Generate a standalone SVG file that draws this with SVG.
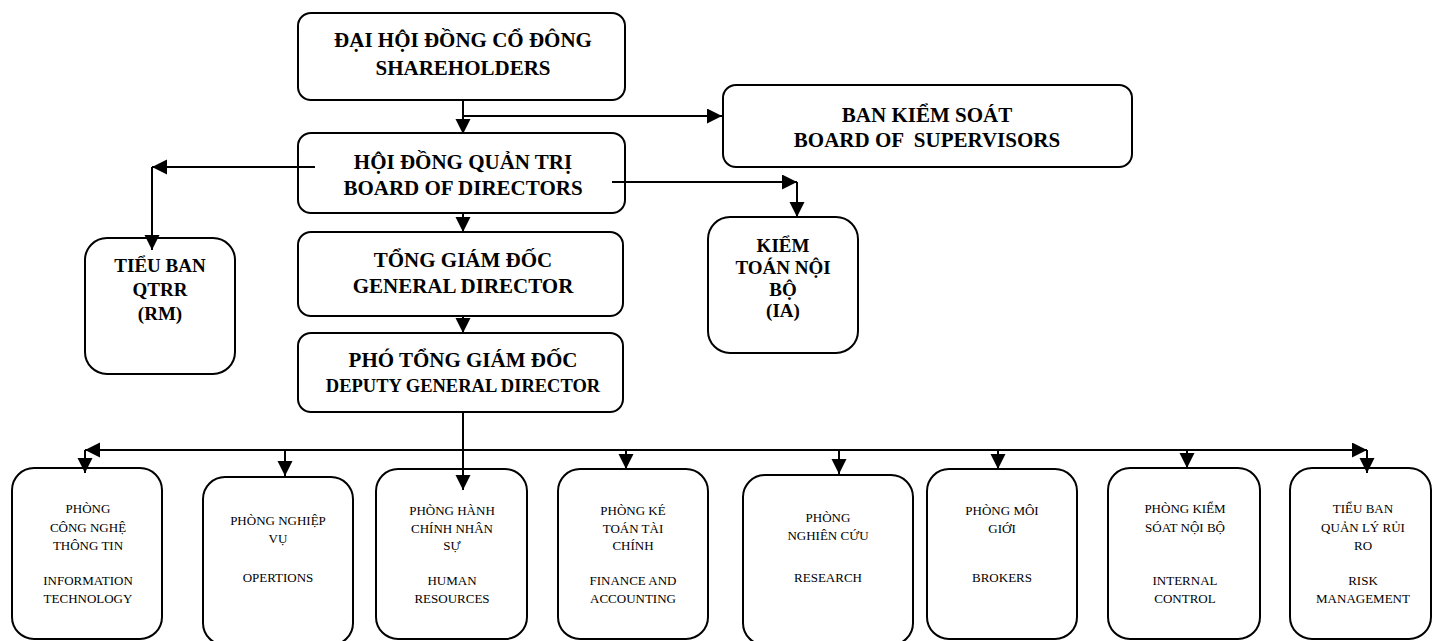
<svg xmlns="http://www.w3.org/2000/svg" width="1433" height="641" viewBox="0 0 1433 641">
<style>
.box{fill:#fff;stroke:#000;stroke-width:2}
text{font-family:'Liberation Serif',serif;text-anchor:middle;fill:#000}
.t{font-weight:bold;font-size:21px}
.s{font-weight:bold;font-size:19px}
.r{font-size:13px}
.c{stroke:#000;stroke-width:2;fill:none;marker-end:url(#ah)}
.n{stroke:#000;stroke-width:2;fill:none}
</style>
<defs>
<marker id="ah" markerUnits="userSpaceOnUse" markerWidth="16" markerHeight="16" refX="15" refY="7.5" orient="auto">
<path d="M0,0 L15,7.5 L0,15 z" fill="#000"/>
</marker>
</defs>
<rect width="1433" height="641" fill="#fff"/>
<g id="shareholders">
<rect class="box" x="298" y="13" width="327" height="87" rx="13"/>
<text class="t" x="463" y="47">ĐẠI HỘI ĐỒNG CỔ ĐÔNG</text>
<text class="t" x="463" y="75">SHAREHOLDERS</text>
</g>
<g id="supervisors">
<rect class="box" x="723" y="85" width="409" height="82" rx="13"/>
<text class="t" x="927" y="122">BAN KIỂM SOÁT</text>
<text class="t" x="927" y="147" xml:space="preserve">BOARD OF  SUPERVISORS</text>
</g>
<g id="board">
<rect class="box" x="298" y="133" width="327" height="80" rx="13"/>
<text class="t" x="463" y="169">HỘI ĐỒNG QUẢN TRỊ</text>
<text class="t" x="463" y="195">BOARD OF DIRECTORS</text>
</g>
<g id="rm">
<rect class="box" x="85" y="238" width="150" height="136" rx="22"/>
<text class="s" x="160" y="272">TIỂU BAN</text>
<text class="s" x="160" y="296">QTRR</text>
<text class="s" x="160" y="320">(RM)</text>
</g>
<g id="ia">
<rect class="box" x="708" y="217" width="150" height="136" rx="22"/>
<text class="s" x="783" y="252">KIỂM</text>
<text class="s" x="783" y="274">TOÁN NỘI</text>
<text class="s" x="783" y="296">BỘ</text>
<text class="s" x="783" y="317">(IA)</text>
</g>
<g id="gd">
<rect class="box" x="298" y="232" width="325" height="84" rx="13"/>
<text class="t" x="463" y="267">TỔNG GIÁM ĐỐC</text>
<text class="t" x="463" y="293">GENERAL DIRECTOR</text>
</g>
<g id="dgd">
<rect class="box" x="298" y="333" width="325" height="79" rx="13"/>
<text class="t" x="463" y="367">PHÓ TỔNG GIÁM ĐỐC</text>
<text class="t" x="463" y="392" style="font-size:18.5px">DEPUTY GENERAL DIRECTOR</text>
</g>
<g id="it">
<rect class="box" x="12" y="468" width="150" height="171" rx="22"/>
<text class="r" x="88" y="513">PHÒNG</text>
<text class="r" x="88" y="532">CÔNG NGHỆ</text>
<text class="r" x="88" y="550">THÔNG TIN</text>
<text class="r" x="88" y="585">INFORMATION</text>
<text class="r" x="88" y="603">TECHNOLOGY</text>
</g>
<g id="ops">
<rect class="box" x="203" y="477" width="150" height="168" rx="22"/>
<text class="r" x="278" y="525">PHÒNG NGHIỆP</text>
<text class="r" x="278" y="543">VỤ</text>
<text class="r" x="278" y="582">OPERTIONS</text>
</g>
<g id="hr">
<rect class="box" x="376" y="469" width="151" height="170" rx="22"/>
<text class="r" x="452" y="515">PHÒNG HÀNH</text>
<text class="r" x="452" y="533">CHÍNH NHÂN</text>
<text class="r" x="452" y="550">SỰ</text>
<text class="r" x="452" y="585">HUMAN</text>
<text class="r" x="452" y="603">RESOURCES</text>
</g>
<g id="fa">
<rect class="box" x="558" y="469" width="150" height="170" rx="22"/>
<text class="r" x="633" y="515">PHÒNG KÉ</text>
<text class="r" x="633" y="533">TOÁN TÀI</text>
<text class="r" x="633" y="550">CHÍNH</text>
<text class="r" x="633" y="585">FINANCE AND</text>
<text class="r" x="633" y="603">ACCOUNTING</text>
</g>
<g id="research">
<rect class="box" x="743" y="475" width="170" height="170" rx="22"/>
<text class="r" x="828" y="522">PHÒNG</text>
<text class="r" x="828" y="540">NGHIÊN CỨU</text>
<text class="r" x="828" y="582">RESEARCH</text>
</g>
<g id="brokers">
<rect class="box" x="927" y="469" width="150" height="170" rx="22"/>
<text class="r" x="1002" y="515">PHÒNG MÔI</text>
<text class="r" x="1002" y="533">GIỚI</text>
<text class="r" x="1002" y="582">BROKERS</text>
</g>
<g id="ic">
<rect class="box" x="1108" y="468" width="152" height="171" rx="22"/>
<text class="r" x="1185" y="513">PHÒNG KIỂM</text>
<text class="r" x="1185" y="532">SÓAT NỘI BỘ</text>
<text class="r" x="1185" y="585">INTERNAL</text>
<text class="r" x="1185" y="603">CONTROL</text>
</g>
<g id="riskmgmt">
<rect class="box" x="1290" y="468" width="141" height="171" rx="22"/>
<text class="r" x="1363" y="513">TIỂU BAN</text>
<text class="r" x="1363" y="532">QUẢN LÝ RỦI</text>
<text class="r" x="1363" y="550">RO</text>
<text class="r" x="1363" y="585">RISK</text>
<text class="r" x="1363" y="603">MANAGEMENT</text>
</g>
<g id="connectors">
<line class="n" x1="463" y1="100" x2="463" y2="116"/>
<line class="c" x1="463" y1="116" x2="463" y2="134"/>
<line class="c" x1="463" y1="116" x2="722" y2="116"/>
<line class="c" x1="315" y1="167" x2="152" y2="167"/>
<line class="c" x1="152" y1="167" x2="152" y2="250"/>
<line class="c" x1="612" y1="182" x2="797" y2="182"/>
<line class="c" x1="797" y1="182" x2="797" y2="217"/>
<line class="c" x1="463" y1="213" x2="463" y2="232"/>
<line class="c" x1="463" y1="316" x2="463" y2="333"/>
<line class="c" x1="463" y1="412" x2="463" y2="490"/>
<line class="c" x1="463" y1="450" x2="85" y2="450"/>
<line class="c" x1="463" y1="450" x2="1367" y2="450"/>
<line class="c" x1="85" y1="450" x2="85" y2="473"/>
<line class="c" x1="285" y1="450" x2="285" y2="476"/>
<line class="c" x1="626" y1="450" x2="626" y2="469"/>
<line class="c" x1="839" y1="450" x2="839" y2="474"/>
<line class="c" x1="998" y1="450" x2="998" y2="469"/>
<line class="c" x1="1187" y1="450" x2="1187" y2="468"/>
<line class="c" x1="1367" y1="450" x2="1367" y2="473"/>
</g>
</svg>
